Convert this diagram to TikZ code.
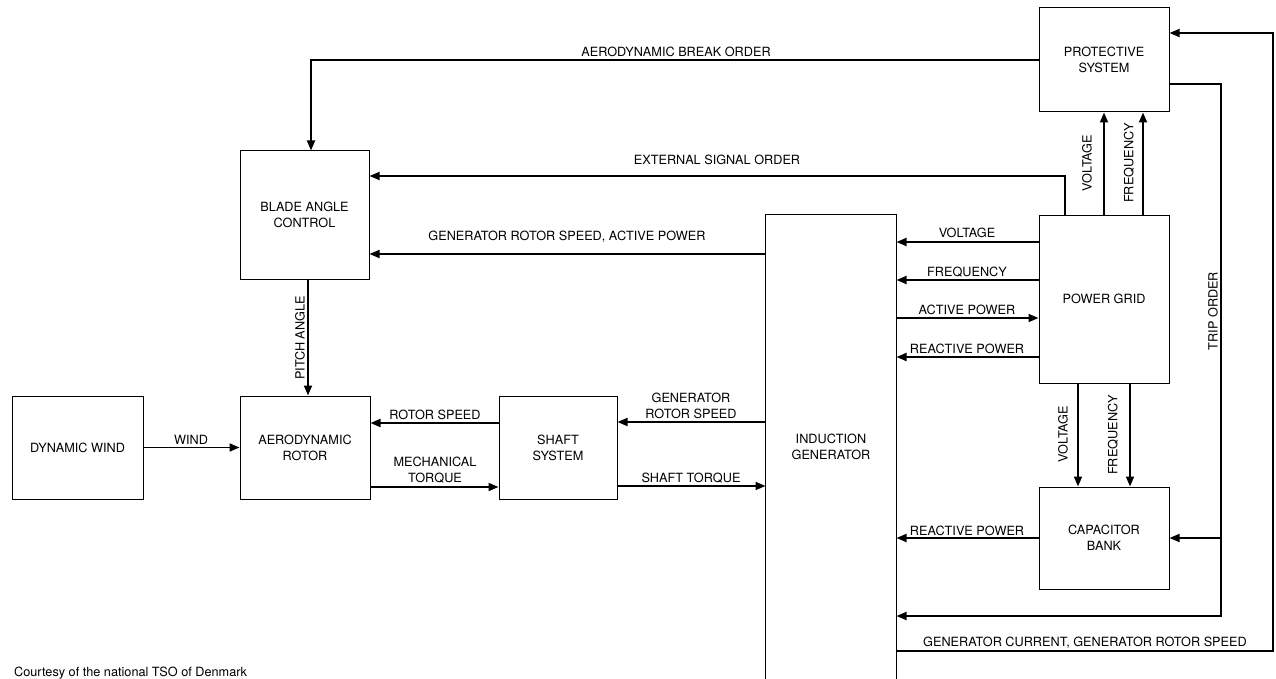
\documentclass[tikz,border=0pt]{standalone}
\usepackage{fontspec}
\setmainfont{TeX Gyre Heros}
\usetikzlibrary{arrows.meta}

\begin{document}
\begin{tikzpicture}[x=1pt, y=-1pt,
    font=\fontsize{12.7}{16}\selectfont,
    block/.style={draw, line width=1pt, align=center, inner sep=0pt},
    sig/.style={line width=1.8pt, -{Triangle[length=10pt,width=8pt]}},
    lab/.style={inner sep=0pt, align=center}]
\useasboundingbox (0,0) rectangle (1276,679);

% blocks
\node[block, minimum width=130pt, minimum height=104pt] (prot) at (1104,60) {PROTECTIVE\\SYSTEM};
\node[block, minimum width=130pt, minimum height=168pt] (grid) at (1104,299) {POWER GRID};
\node[block, minimum width=130pt, minimum height=102pt] (cap) at (1104,538) {CAPACITOR\\BANK};
\node[block, draw=none, minimum width=130pt, minimum height=464pt] (indgen) at (831,447) {INDUCTION\\GENERATOR};
\draw[line width=1pt] (indgen.south west) |- (indgen.north east) -- (indgen.south east); % runs off the bottom
\node[block, minimum width=129pt, minimum height=128pt] (blade) at (304.5,215) {BLADE ANGLE\\CONTROL};
\node[block, minimum width=131pt, minimum height=103pt] (wind) at (77.5,447.5) {DYNAMIC WIND};
\node[block, minimum width=130pt, minimum height=103pt] (rotor) at (305,447.5) {AERODYNAMIC\\ROTOR};
\node[block, minimum width=118pt, minimum height=103pt] (shaft) at (558,447.5) {SHAFT\\SYSTEM};

% orders to the blade angle control
\draw[sig] (prot.west) -| ([xshift=6.5pt]blade.north);
\node[lab] (breaklab) at (676,52) {AERODYNAMIC BREAK ORDER};
\draw[sig] ([xshift=-39pt]grid.north) |- (blade.east |- 0,176);
\node[lab] (extlab) at (717,160) {EXTERNAL SIGNAL ORDER};
\draw[sig] (indgen.west |- 0,254) -- (blade.east |- 0,254);
\node[lab] (speedlab) at (567,237) {GENERATOR ROTOR SPEED, ACTIVE POWER};

% power grid measurements
\draw[sig] (grid.north) -- (prot.south);
\draw[sig] ([xshift=39pt]grid.north) -- ([xshift=39pt]prot.south);
\node[lab, rotate=90] (upvolt) at (1087,163) {VOLTAGE};
\node[lab, rotate=90] (upfreq) at (1129,163) {FREQUENCY};

\draw[sig] (grid.west |- 0,242) -- (indgen.east |- 0,242);
\node[lab] (gvolt) at (967,233) {VOLTAGE};
\draw[sig] (grid.west |- 0,280) -- (indgen.east |- 0,280);
\node[lab] (gfreq) at (967,272) {FREQUENCY};
\draw[sig] (indgen.east |- 0,318) -- (grid.west |- 0,318);
\node[lab] (gact) at (967,310) {ACTIVE POWER};
\draw[sig] (grid.west |- 0,357) -- (indgen.east |- 0,357);
\node[lab] (greact) at (967,349) {REACTIVE POWER};

\draw[sig] ([xshift=-26pt]grid.south) -- ([xshift=-26pt]cap.north);
\draw[sig] ([xshift=26pt]grid.south) -- ([xshift=26pt]cap.north);
\node[lab, rotate=90] (dnvolt) at (1063,434) {VOLTAGE};
\node[lab, rotate=90] (dnfreq) at (1113,435) {FREQUENCY};

\draw[sig] (cap.west) -- (indgen.east |- cap.west);
\node[lab] (creact) at (967,531) {REACTIVE POWER};

% trip order and feedback loop
\coordinate (tripbot) at (1221,616);
\draw[sig] (prot.east |- 0,84) -| (tripbot) -- (indgen.east |- tripbot);
\draw[sig] (cap.east -| tripbot) -- (cap.east);
\node[lab, rotate=90] (triplab) at (1213,311) {TRIP ORDER};

\coordinate (loopcorner) at (1273,33);
\draw[sig] (indgen.east |- 0,651) -| (loopcorner) -- (prot.east |- loopcorner);
\node[lab] (curlab) at (1085,643) {GENERATOR CURRENT, GENERATOR ROTOR SPEED};

% drive train
\draw[sig] ([xshift=3.5pt]blade.south) -- ([xshift=3pt]rotor.north);
\node[lab, rotate=90] (pitchlab) at (300,338) {PITCH ANGLE};
\draw[sig] (wind.east) -- (rotor.west);
\node[lab] (windlab) at (191,440) {WIND};
\draw[sig] (shaft.west |- 0,423) -- (rotor.east |- 0,423);
\node[lab] (rspeed) at (435,415) {ROTOR SPEED};
\draw[sig] (rotor.east |- 0,487) -- (shaft.west |- 0,487);
\node[lab] (mech) at (435,470.5) {MECHANICAL\\TORQUE};
\draw[sig] (indgen.west |- 0,422) -- (shaft.east |- 0,422);
\node[lab] (genspeed) at (691,406) {GENERATOR\\ROTOR SPEED};
\draw[sig] (shaft.east |- 0,486) -- (indgen.west |- 0,486);
\node[lab] (storque) at (691,478) {SHAFT TORQUE};

\node[lab, anchor=west] (credit) at (14,673) {Courtesy of the national TSO of Denmark};
\end{tikzpicture}
\end{document}
